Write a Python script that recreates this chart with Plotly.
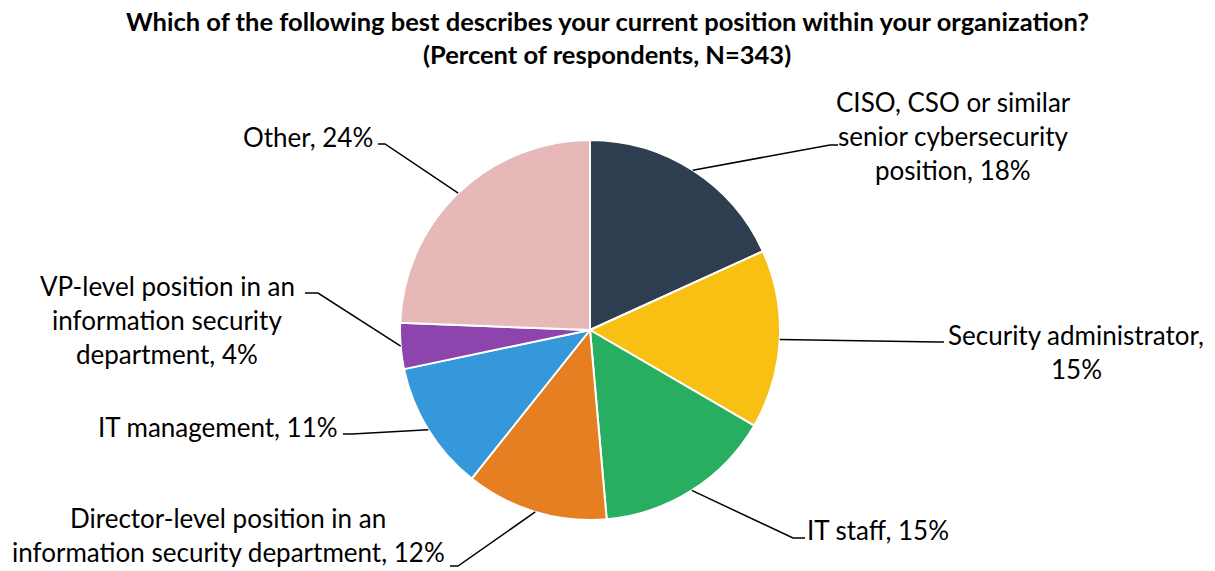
import math
import plotly.graph_objects as go

# Survey data
categories = [
    "CISO, CSO or similar senior cybersecurity position",
    "Security administrator",
    "IT staff",
    "Director-level position in an information security department",
    "IT management",
    "VP-level position in an information security department",
    "Other",
]
percents = [18.2, 15.2, 15.2, 12.1, 11.0, 3.9, 24.4]
label_lines = [
    ["CISO, CSO or similar", "senior cybersecurity", "position, {p}%"],
    ["Security administrator,", "{p}%"],
    ["IT staff, {p}%"],
    ["Director-level position in an", "information security department, {p}%"],
    ["IT management, {p}%"],
    ["VP-level position in an", "information security", "department, {p}%"],
    ["Other, {p}%"],
]
colors = ["#2E3D50", "#F7C012", "#28AE60", "#E67E22", "#3598DB", "#8E44AD", "#E6B8B7"]

W, H = 1215, 571
CX, CY, R = 590, 330, 190  # pie centre and radius in pixels
FONT = "Lato"
FS = 26
TITLE_FS = 25.5

# label layout: (elbow x, elbow y, end x, text x, text y of first line, anchor)
label_layout = [
    (830, 145, 838, 953, 102, "center"),
    (938, 342, 944, 1076, 335, "center"),
    (793, 538, 805, 878, 530, "center"),
    (458, 566, 450, 228, 518, "center"),
    (352, 434, 343, 340, 427, "right"),
    (318, 293, 305, 167, 286, "center"),
    (385, 144, 378, 375, 137, "right"),
]
LINE_H = 34


def px(x):
    return x / W


def py(y):
    return 1 - y / H


fig = go.Figure(
    go.Pie(
        labels=categories,
        values=percents,
        sort=False,
        direction="clockwise",
        rotation=0,
        marker=dict(colors=colors, line=dict(color="white", width=2)),
        textinfo="none",
        hoverinfo="label+percent",
        domain=dict(x=[px(CX - R), px(CX + R)], y=[py(CY + R), py(CY - R)]),
        showlegend=False,
    )
)

shapes = []
annotations = []
total = sum(percents)
cum = 0.0
for i, v in enumerate(percents):
    mid = (cum + v / 2) / total * 2 * math.pi
    cum += v
    ax = CX + R * math.sin(mid)
    ay = CY - R * math.cos(mid)
    ex, ey, hx, tx, ty, anchor = label_layout[i]
    shapes.append(dict(
        type="path",
        xref="paper", yref="paper",
        path=f"M {px(ax)},{py(ay)} L {px(ex)},{py(ey)} L {px(hx)},{py(ey)}",
        line=dict(color="black", width=1.5),
    ))
    pct = round(v)
    for j, line in enumerate(label_lines[i]):
        annotations.append(dict(
            x=px(tx), y=py(ty + j * LINE_H),
            xref="paper", yref="paper",
            text=line.format(p=pct),
            showarrow=False,
            xanchor=anchor, yanchor="middle",
            font=dict(family=FONT, size=FS, color="black"),
        ))

title_lines = [
    "Which of the following best describes your current position within your organization?",
    "(Percent of respondents, N=343)",
]
for j, t in enumerate(title_lines):
    annotations.append(dict(
        x=px(607), y=py(21 + j * 33),
        xref="paper", yref="paper",
        text=f"<b>{t}</b>",
        showarrow=False,
        xanchor="center", yanchor="middle",
        font=dict(family=FONT, size=TITLE_FS, color="black"),
    ))

fig.update_layout(
    width=W, height=H,
    margin=dict(l=0, r=0, t=0, b=0),
    paper_bgcolor="white",
    plot_bgcolor="white",
    shapes=shapes,
    annotations=annotations,
)

fig.write_html("out.html")
